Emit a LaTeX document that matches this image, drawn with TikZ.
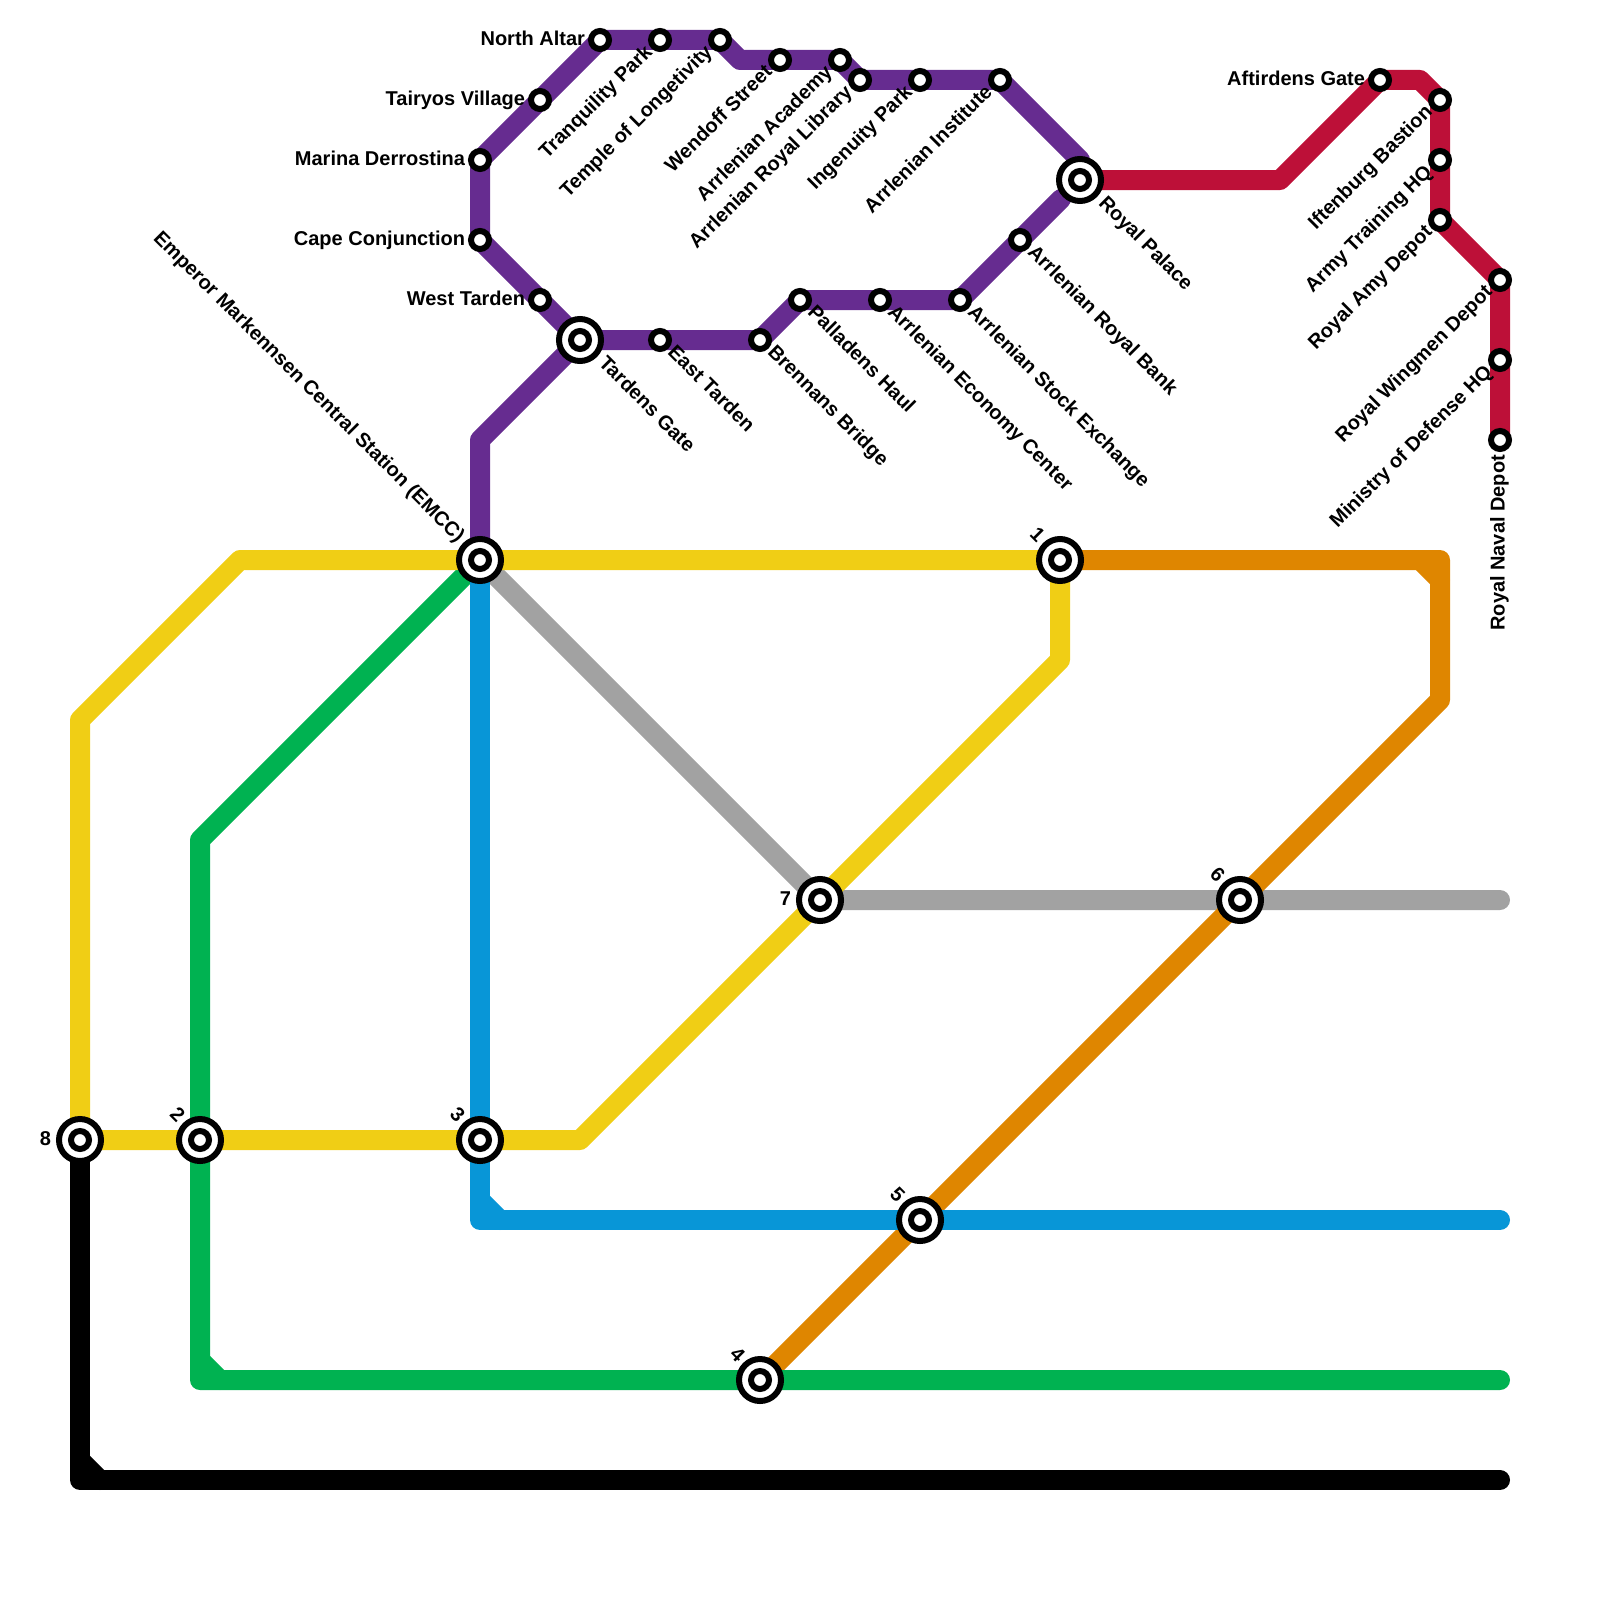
\documentclass[tikz,border=0pt]{standalone}
\usepackage{fontspec}
\setmainfont{Liberation Sans}
\definecolor{cyellow}{HTML}{F0CE15}
\definecolor{cgreen}{HTML}{00B251}
\definecolor{cblue}{HTML}{0896D7}
\definecolor{cgray}{HTML}{A2A2A2}
\definecolor{corange}{HTML}{DF8600}
\definecolor{cpurple}{HTML}{662C90}
\definecolor{ccrimson}{HTML}{BD1038}
\tikzset{
  mline/.style={line width=20pt,line join=round,line cap=round},
  sta/.style={circle,draw=black,fill=white,line width=6pt,minimum size=18pt,inner sep=0pt,outer sep=0pt},
  hub/.pic={\draw[black,fill=white,line width=6pt] (0,0) circle (21pt);\draw[black,fill=white,line width=6pt] (0,0) circle (9pt);},
  txt/.style={font=\fontsize{20}{24}\selectfont\bfseries,text=black,inner sep=0pt,outer sep=0pt,text height=14.5pt,text depth=5.5pt},
  lw/.style={txt,anchor=east,text depth=3pt},
  lne/.style={txt,anchor=east,rotate=45},
  lse/.style={txt,anchor=west,rotate=-45},
  lnw/.style={txt,anchor=east,rotate=-45},
  lv/.style={txt,anchor=east,rotate=90},
}
\begin{document}
\begin{tikzpicture}[x=1pt,y=-1pt]
\useasboundingbox (0,0) rectangle (1600,1600);
% waypoints
\foreach \n/\x/\y in {
 emcc/480/560, one/1060/560, two/200/1140, three/480/1140, four/760/1380, five/920/1220, six/1240/900, seven/820/900, eight/80/1140,
 tardens/580/340, palace/1080/180,
 y1/240/560, y2/80/720, y3/580/1140, y4/1060/660,
 g1/200/840, g2/200/1380, g3/1500/1380, g4/200/1360, g5/220/1380,
 b1/480/1220, b2/1500/1220, b3/480/1200, b4/500/1220,
 s1/1500/900,
 o1/1440/560, o2/1440/700, o3/1420/560, o4/1440/580,
 k1/80/1480, k2/1500/1480, k3/80/1460, k4/100/1480,
 p1/480/440, p3/740/60, p6/1080/160, p7/1061/199,
 r1/1280/180, r2/1420/80}
 {\coordinate (\n) at (\x,\y);}
% stations
\foreach \n/\x/\y in {
 altar/600/40, tranq/660/40, temple/720/40, wendoff/780/60, academy/840/60, library/860/80, ingen/920/80, inst/1000/80,
 tairyos/540/100, marina/480/160, cape/480/240, wtarden/540/300, etarden/660/340, brennans/760/340, pallad/800/300, econ/880/300, stock/960/300, bank/1020/240,
 aft/1380/80, ift/1440/100, army/1440/160, amy/1440/220, wing/1500/280, mod/1500/360, naval/1500/440}
 {\coordinate (\n) at (\x,\y);}
% lines
\draw[mline,cpurple] (emcc)--(p1)--(tardens)--(wtarden)--(cape)--(marina)--(tairyos)--(altar)--(tranq)--(temple)--(p3)--(wendoff)--(academy)--(library)--(ingen)--(inst)--(p6);
\draw[mline,cpurple] (p7)--(bank)--(stock)--(econ)--(pallad)--(brennans)--(etarden)--(tardens);
\draw[mline,ccrimson] (palace)--(r1)--(aft)--(r2)--(ift)--(army)--(amy)--(wing)--(mod)--(naval);
\draw[mline,cgray] (emcc)--(seven)--(six)--(s1);
\draw[mline,corange] (four)--(five)--(six)--(o2)--(o1)--(one);
\draw[mline,corange] (o3)--(o4);
\draw[mline,cgreen] (emcc)--(g1)--(g2)--(g3);
\draw[mline,cgreen] (g4)--(g5);
\draw[mline,cblue] (emcc)--(b1)--(b2);
\draw[mline,cblue] (b3)--(b4);
\draw[mline,cyellow] (one)--(y1)--(y2)--(eight)--(y3)--(y4)--(one);
\draw[mline,black] (eight)--(k1)--(k2);
\draw[mline,black] (k3)--(k4);
% interchange stations
\foreach \n in {emcc,one,two,three,four,five,six,seven,eight,tardens,palace}
  {\path (\n) pic {hub};}
% plain stations
\foreach \n in {altar,tranq,temple,wendoff,academy,library,ingen,inst,tairyos,marina,cape,wtarden,etarden,brennans,pallad,econ,stock,bank,aft,ift,army,amy,wing,mod,naval}
  {\node[sta] (st\n) at (\n) {};}
% labels
\node[lw] (lb1) at ([xshift=-15pt]altar) {North Altar};
\node[lw] (lb2) at ([xshift=-15pt]tairyos) {Tairyos Village};
\node[lw] (lb3) at ([xshift=-15pt]marina) {Marina Derrostina};
\node[lw] (lb4) at ([xshift=-15pt]cape) {Cape Conjunction};
\node[lw] (lb5) at ([xshift=-15pt]wtarden) {West Tarden};
\node[lw] (lb6) at ([xshift=-15pt]aft) {Aftirdens Gate};
\node[lne] (lb7) at ([shift={(-10,10)}]tranq) {Tranquility Park};
\node[lne] (lb8) at ([shift={(-10,10)}]temple) {Temple of Longetivity};
\node[lne] (lb9) at ([shift={(-10,10)}]wendoff) {Wendoff Street};
\node[lne] (lb10) at ([shift={(-10,10)}]academy) {Arrlenian Academy};
\node[lne] (lb11) at ([shift={(-10,10)}]library) {Arrlenian Royal Library};
\node[lne] (lb12) at ([shift={(-10,10)}]ingen) {Ingenuity Park};
\node[lne] (lb13) at ([shift={(-10,10)}]inst) {Arrlenian Institute};
\node[lne] (lb14) at ([shift={(-10,10)}]ift) {Iftenburg Bastion};
\node[lne] (lb15) at ([shift={(-10,10)}]army) {Army Training HQ};
\node[lne] (lb16) at ([shift={(-10,10)}]amy) {Royal Amy Depot};
\node[lne] (lb17) at ([shift={(-10,10)}]wing) {Royal Wingmen Depot};
\node[lne] (lb18) at ([shift={(-10,10)}]mod) {Ministry of Defense HQ};
\node[lv] (lb19) at ([shift={(0,15)}]naval) {Royal Naval Depot};
\node[lse] (lb20) at ([shift={(10,10)}]etarden) {East Tarden};
\node[lse] (lb21) at ([shift={(10,10)}]brennans) {Brennans Bridge};
\node[lse] (lb22) at ([shift={(10,10)}]pallad) {Palladens Haul};
\node[lse] (lb23) at ([shift={(10,10)}]econ) {Arrlenian Economy Center};
\node[lse] (lb24) at ([shift={(10,10)}]stock) {Arrlenian Stock Exchange};
\node[lse] (lb25) at ([shift={(10,10)}]bank) {Arrlenian Royal Bank};
\node[lse] (lb26) at ([shift={(21,21)}]tardens) {Tardens Gate};
\node[lse] (lb27) at ([shift={(21,21)}]palace) {Royal Palace};
\node[lnw] (lb28) at ([shift={(-20,-20)}]emcc) {Emperor Markennsen Central Station (EMCC)};
\node[lnw] (lb29) at ([shift={(-20,-20)}]one) {1};
\node[lnw] (lb30) at ([shift={(-20,-20)}]two) {2};
\node[lnw] (lb31) at ([shift={(-20,-20)}]three) {3};
\node[lnw] (lb32) at ([shift={(-20,-20)}]four) {4};
\node[lnw] (lb33) at ([shift={(-20,-20)}]five) {5};
\node[lnw] (lb34) at ([shift={(-20,-20)}]six) {6};
\node[lw] (lb35) at ([xshift=-29pt]seven) {7};
\node[lw] (lb36) at ([xshift=-29pt]eight) {8};
\end{tikzpicture}
\end{document}
